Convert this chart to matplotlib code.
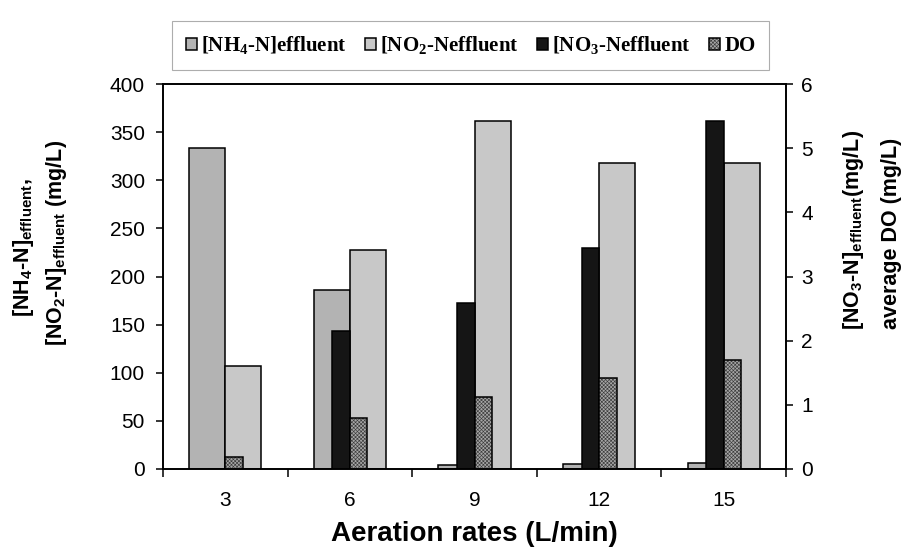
import numpy as np
import matplotlib
matplotlib.use('Agg')
import matplotlib.pyplot as plt

# data
rates = ['3', '6', '9', '12', '15']
nh4 = [333, 186, 4, 5, 6]          # left axis
no2 = [107, 228, 362, 318, 318]    # left axis
no3 = [0, 2.15, 2.58, 3.45, 5.43]  # right axis
do = [0.18, 0.79, 1.12, 1.42, 1.70]  # right axis

plt.rcParams['font.family'] = 'Liberation Sans'
plt.rcParams['hatch.linewidth'] = 0.45

fig = plt.figure(figsize=(9.09, 5.51), dpi=100)
ax = fig.add_axes([163 / 909, 1 - 469 / 551, 623 / 909, 385 / 551])
ax2 = ax.twinx()

x = np.arange(len(rates))
w1 = 0.29
w2 = 0.14
b1 = ax.bar(x - w1 / 2, nh4, w1, color='#b3b3b3', edgecolor='black', linewidth=1.1)
b2 = ax.bar(x + w1 / 2, no2, w1, color='#c8c8c8', edgecolor='black', linewidth=1.1)
b3 = ax2.bar(x - w2 / 2, no3, w2, color='#151515', edgecolor='black', linewidth=1.1)
# DO: fine grey texture, then a black outline on top
b4 = ax2.bar(x + w2 / 2, do, w2, color='#a6a6a6', edgecolor='#3c3c3c', linewidth=0,
             hatch='xxxxxxxxx')
b4o = ax2.bar(x + w2 / 2, do, w2, fill=False, edgecolor='black', linewidth=1.1)

ax.set_xlim(-0.5, len(rates) - 0.5)
ax.set_ylim(0, 400)
ax.set_yticks(np.arange(0, 401, 50))
ax2.set_ylim(0, 6)
ax2.set_yticks(np.arange(0, 7, 1))

ax.set_xticks(x, rates)
ax.set_xticks(np.arange(-0.5, len(rates), 1), minor=True)
ax.tick_params(axis='x', which='major', length=0, pad=16, labelsize=15)
ax.tick_params(axis='x', which='minor', length=6, width=1.1, direction='out')
ax.tick_params(axis='y', length=5, width=1.1, direction='out', pad=8, labelsize=15)
ax2.tick_params(axis='y', length=5, width=1.1, direction='out', pad=6, labelsize=15)
for a in (ax, ax2):
    for s in a.spines.values():
        s.set_linewidth(1.2)

ax.set_xlabel('Aeration rates (L/min)', fontsize=20, fontweight='bold', labelpad=8)

# two-line axis titles, like the original
lab = dict(rotation=90, ha='center', va='center', fontsize=15.5, fontweight='bold')
fig.text(23 / 909, 1 - 248 / 551,
         r'[NH$\mathregular{_4}$-N]$\mathregular{_{effluent}}$,', **lab)
fig.text(57 / 909, 1 - 243 / 551,
         r'[NO$\mathregular{_2}$-N]$\mathregular{_{effluent}}$ (mg/L)', **lab)
fig.text(853 / 909, 1 - 230 / 551,
         r'[NO$\mathregular{_3}$-N]$\mathregular{_{effluent}}$(mg/L)', **lab)
fig.text(891 / 909, 1 - 233 / 551, 'average DO (mg/L)', **lab)

labels = [r'[NH$\mathregular{_4}$-N]effluent', r'[NO$\mathregular{_2}$-Neffluent',
          r'[NO$\mathregular{_3}$-Neffluent', 'DO']
leg = fig.legend([b1, b2, b3, (b4, b4o)], labels, loc='lower left', ncol=4, mode='expand',
                 bbox_to_anchor=(172 / 909, 1 - 70 / 551, 597 / 909, 56 / 551),
                 prop={'family': 'Liberation Serif', 'weight': 'bold', 'size': 15},
                 handlelength=0.55, handleheight=0.55, handletextpad=0.2,
                 borderpad=0.65, fancybox=False, borderaxespad=0)
leg.get_frame().set_edgecolor('#999999')
leg.get_frame().set_linewidth(0.8)

fig.savefig('out.png', dpi=100)
